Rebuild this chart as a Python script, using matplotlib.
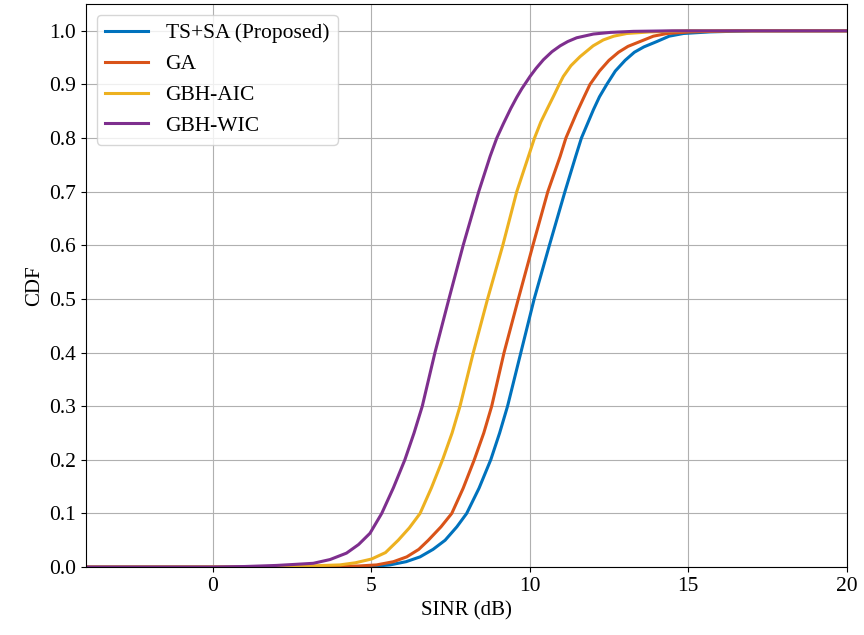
import numpy as np
import matplotlib
matplotlib.use("Agg")
import matplotlib.pyplot as plt

plt.rcParams["font.family"] = ["Liberation Serif", "DejaVu Serif"]

# values (SINR in dB, CDF)
x_ts = [-4, 3.0, 4.8, 5.2, 5.59, 6.1, 6.54, 6.95, 7.33, 7.7, 8.01, 8.4, 8.77, 9.05,
        9.30, 9.72, 10.14, 10.62, 11.11, 11.45, 11.63, 12.01, 12.2, 12.43, 12.7,
        13.01, 13.3, 13.6, 14.01, 14.4, 14.85, 15.69, 17.0, 20]
y_ts = [0, 0, 0.001, 0.002, 0.004, 0.01, 0.019, 0.033, 0.05, 0.075, 0.1, 0.147, 0.2, 0.25,
        0.3, 0.4, 0.5, 0.6, 0.7, 0.766, 0.8, 0.853, 0.877, 0.9, 0.925,
        0.945, 0.96, 0.97, 0.98, 0.99, 0.995, 0.998, 1.0, 1.0]

x_ga = [-4, 2.5, 4.0, 4.6, 5.17, 5.7, 6.12, 6.5, 6.80, 7.2, 7.54, 7.9, 8.25, 8.55,
        8.80, 9.19, 9.64, 10.10, 10.57, 10.96, 11.14, 11.48, 11.70, 11.90, 12.2,
        12.5, 12.8, 13.1, 13.48, 13.9, 14.33, 15.06, 16.5, 20]
y_ga = [0, 0, 0.001, 0.002, 0.004, 0.01, 0.019, 0.033, 0.05, 0.075, 0.1, 0.147, 0.2, 0.25,
        0.3, 0.4, 0.5, 0.6, 0.7, 0.766, 0.8, 0.847, 0.875, 0.9, 0.925,
        0.945, 0.96, 0.971, 0.98, 0.99, 0.995, 0.998, 1.0, 1.0]

x_aic = [-4, 1.5, 3.0, 4.01, 4.5, 5.01, 5.45, 5.85, 6.2, 6.54, 6.9, 7.25, 7.55,
         7.80, 8.22, 8.67, 9.15, 9.59, 9.96, 10.15, 10.35, 10.54, 10.75, 10.93,
         11.06, 11.3, 11.59, 12.0, 12.32, 12.65, 13.06, 13.8, 15.0, 20]
y_aic = [0, 0, 0.002, 0.004, 0.008, 0.015, 0.027, 0.05, 0.073, 0.1, 0.148, 0.2, 0.25,
         0.3, 0.4, 0.5, 0.6, 0.7, 0.766, 0.8, 0.83, 0.853, 0.878, 0.9,
         0.915, 0.935, 0.952, 0.972, 0.983, 0.99, 0.995, 0.998, 1.0, 1.0]

x_wic = [-4, 0.0, 1.0, 2.0, 2.6, 3.17, 3.7, 4.22, 4.6, 4.96, 5.33, 5.7, 6.06, 6.35,
         6.61, 7.01, 7.45, 7.90, 8.39, 8.75, 8.96, 9.17, 9.4, 9.59, 9.75, 10.01,
         10.2, 10.43, 10.7, 10.96, 11.2, 11.48, 12.01, 12.54, 13.27, 14.5, 20]
y_wic = [0, 0, 0.001, 0.003, 0.005, 0.007, 0.014, 0.026, 0.042, 0.063, 0.1, 0.148, 0.2, 0.25,
         0.3, 0.4, 0.5, 0.6, 0.7, 0.766, 0.8, 0.827, 0.855, 0.876, 0.892, 0.915,
         0.93, 0.946, 0.961, 0.972, 0.98, 0.987, 0.994, 0.997, 0.999, 1.0, 1.0]

labels = ["TS+SA (Proposed)", "GA", "GBH-AIC", "GBH-WIC"]
colors = ["#0072BD", "#D95319", "#EDB120", "#7E2F8E"]

fig = plt.figure(figsize=(8.64, 6.35), dpi=100)
ax = fig.add_axes([0.0995, 0.107, 0.8805, 0.8867])

series = [(x_ts, y_ts), (x_ga, y_ga), (x_aic, y_aic), (x_wic, y_wic)]
for (xs, ys), lab, c in zip(series, labels, colors):
    ax.plot(xs, ys, color=c, lw=2.2, label=lab, solid_joinstyle="round")

ax.set_xlim(-4, 20)
ax.set_ylim(0, 1.05)
ax.set_xticks([0, 5, 10, 15, 20])
ax.set_yticks(np.arange(0, 1.01, 0.1))
ax.yaxis.set_major_formatter(matplotlib.ticker.FormatStrFormatter("%.1f"))
ax.tick_params(labelsize=15.5)
ax.grid(True, color="#b0b0b0", lw=0.8)
ax.set_axisbelow(True)
ax.set_xlabel("SINR (dB)", fontsize=15)
ax.set_ylabel("CDF", fontsize=15)
ax.legend(loc="upper left", fontsize=15.5)

fig.savefig("out.png", dpi=100)
